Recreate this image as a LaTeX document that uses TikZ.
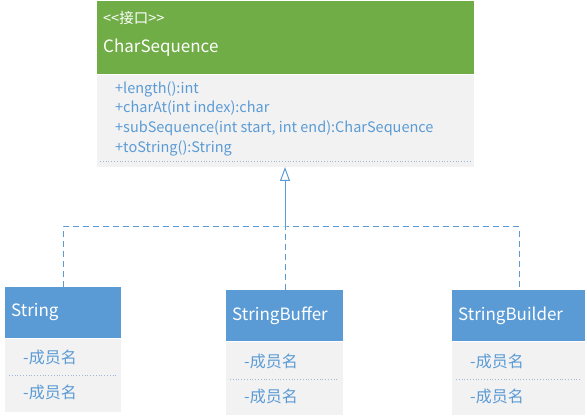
\documentclass[tikz,border=0pt]{standalone}
\usepackage{fontspec}
\setmainfont{Noto Sans CJK SC}
\usetikzlibrary{arrows.meta}
\definecolor{ifgreen}{HTML}{70AD47}
\definecolor{clblue}{HTML}{5B9BD5}
\definecolor{bodygray}{HTML}{F2F2F2}
\definecolor{sepblue}{HTML}{9DB9D6}
\tikzset{
  box/.style={anchor=north west,inner sep=0pt,outer sep=0pt},
  title/.style={anchor=west,inner sep=0pt,text=white,font=\fontsize{17}{19}\selectfont},
  member/.style={anchor=west,inner sep=0pt,text=clblue,font=\fontsize{14.5}{16}\selectfont},
  field/.style={member,font=\fontsize{16}{18}\selectfont},
  sep/.style={sepblue,dotted,line width=0.8pt},
  impl/.style={clblue,line width=1pt,dash pattern=on 6pt off 4pt},
}
\begin{document}
\begin{tikzpicture}[x=1pt,y=-1pt]
\useasboundingbox (0,0) rectangle (587,417);
% interface CharSequence
\node[box,fill=ifgreen,minimum width=377pt,minimum height=73pt] (csh) at (97,1) {};
\node[box,fill=bodygray,minimum width=377pt,minimum height=92pt] (csb) at (97,75) {};
\node[title,font=\fontsize{14.5}{16}\selectfont] (cst) at (103,18) {{<}{<}接口{>}{>}};
\node[title] (csn) at (103,48) {CharSequence};
\node[member] (m1) at (115,89) {+length():int};
\node[member] (m2) at (115,108) {+charAt(int index):char};
\node[member] (m3) at (115,128) {+subSequence(int start, int end):CharSequence};
\node[member] (m4) at (115,148) {+toString():String};
\draw[sep] (100,161) -- (471,161);
% class String
\node[box,fill=clblue,minimum width=116pt,minimum height=51pt] (strh) at (5,287) {};
\node[box,fill=bodygray,minimum width=116pt,minimum height=73pt] (strb) at (5,339) {};
\node[title] (strn) at (11,312) {String};
\node[field] (s1) at (23,357) {-成员名};
\node[field] (s2) at (23,392) {-成员名};
\draw[sep] (9,375) -- (117,375);
% class StringBuffer
\node[box,fill=clblue,minimum width=117pt,minimum height=51pt] (sbfh) at (226,290) {};
\node[box,fill=bodygray,minimum width=117pt,minimum height=73pt] (sbfb) at (226,342) {};
\node[title] (sbfn) at (232,316) {StringBuffer};
\node[field] (f1) at (244,361) {-成员名};
\node[field] (f2) at (244,396) {-成员名};
\draw[sep] (230,379) -- (339,379);
% class StringBuilder
\node[box,fill=clblue,minimum width=133pt,minimum height=51pt] (sbdh) at (452,290) {};
\node[box,fill=bodygray,minimum width=133pt,minimum height=73pt] (sbdb) at (452,342) {};
\node[title] (sbdn) at (458,316) {StringBuilder};
\node[field] (d1) at (470,361) {-成员名};
\node[field] (d2) at (470,396) {-成员名};
\draw[sep] (456,379) -- (581,379);
% realization
\coordinate (join) at (285,227);
\draw[clblue,line width=1pt,-{Triangle[open,length=14pt,width=10pt]}] (join) -- (join |- csb.south);
\draw[impl] (strh.north -| 63,0) |- (join) -| (sbdh.north -| 519,0);
\draw[impl] (sbfh.north -| join) -- (join);
\end{tikzpicture}
\end{document}
